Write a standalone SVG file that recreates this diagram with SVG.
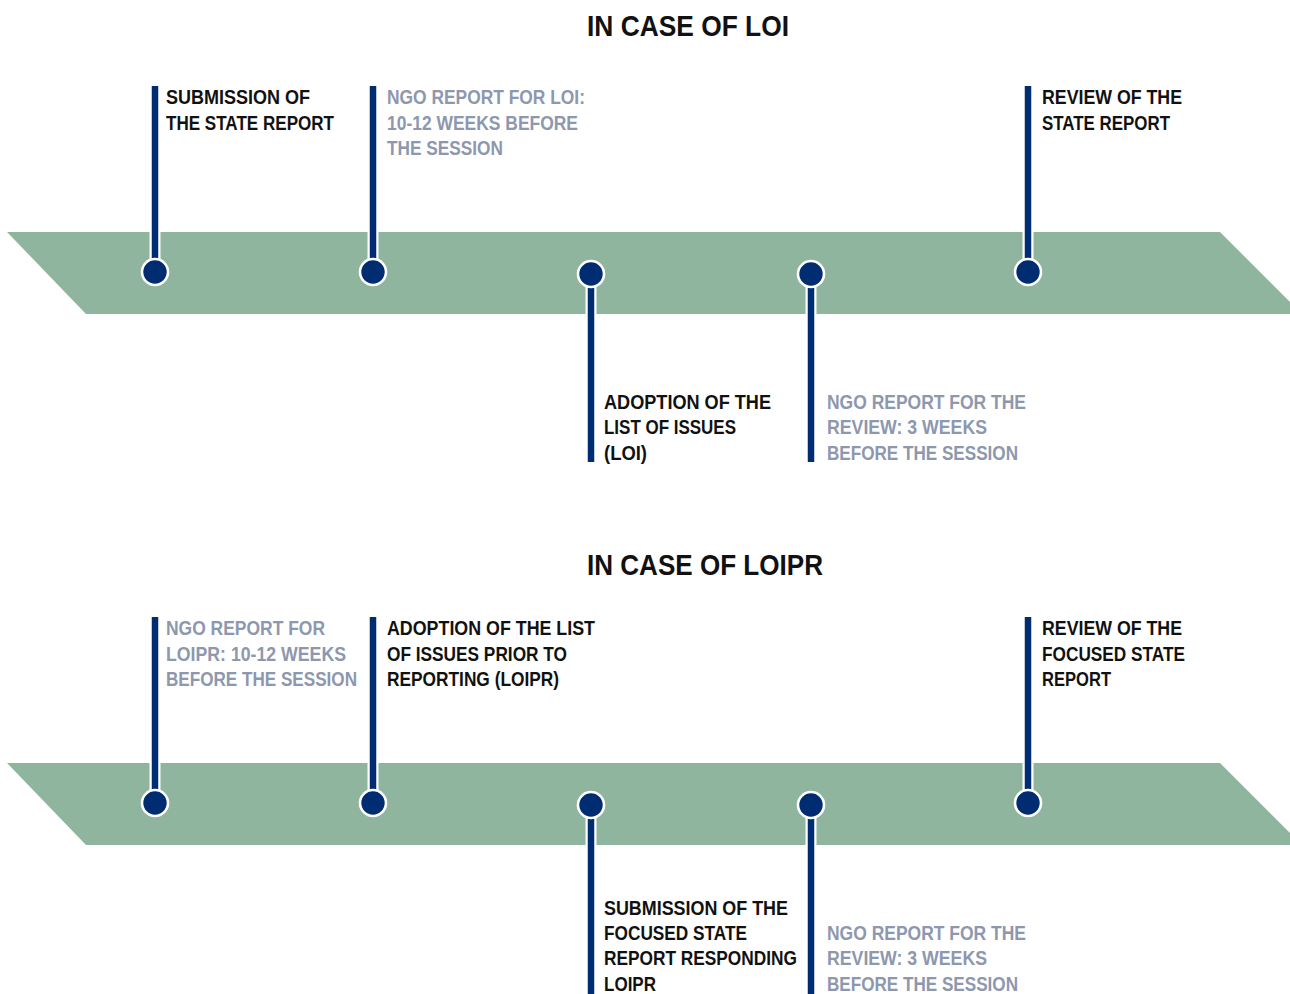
<svg xmlns="http://www.w3.org/2000/svg" width="1290" height="994" viewBox="0 0 1290 994">
<style>
.band{fill:#8fb59e}
.halo{stroke:#ffffff;stroke-width:11}
.stem{stroke:#002d72;stroke-width:6.5}
.dot{fill:#002d72;stroke:#ffffff;stroke-width:2.6}
.t{font-family:"Liberation Sans",Arial,sans-serif;font-weight:bold;font-size:20px}
.k{fill:#111111}
.g{fill:#8d97ae}
.title{font-family:"Liberation Sans",Arial,sans-serif;font-weight:bold;font-size:30px;fill:#111111}
</style>
<rect width="1290" height="994" fill="#ffffff"/>

<text id="title-loi" class="title" x="587" y="36" textLength="202" lengthAdjust="spacingAndGlyphs">IN CASE OF LOI</text>
<text id="title-loipr" class="title" x="587" y="575" textLength="236" lengthAdjust="spacingAndGlyphs">IN CASE OF LOIPR</text>
<polygon id="band-loi" class="band" points="7,232 1220,232 1302,314 86,314"/>
<polygon id="band-loipr" class="band" points="7,763 1220,763 1302,845 86,845"/>

<g id="connectors">
  <g id="stems-loi">
    <line class="halo" x1="155" y1="232" x2="155" y2="272"/><line class="stem" x1="155" y1="86" x2="155" y2="272"/>
    <line class="halo" x1="373" y1="232" x2="373" y2="272"/><line class="stem" x1="373" y1="86" x2="373" y2="272"/>
    <line class="halo" x1="591" y1="274" x2="591" y2="314"/><line class="stem" x1="591" y1="274" x2="591" y2="462"/>
    <line class="halo" x1="811" y1="274" x2="811" y2="314"/><line class="stem" x1="811" y1="274" x2="811" y2="462"/>
    <line class="halo" x1="1028" y1="232" x2="1028" y2="272"/><line class="stem" x1="1028" y1="86" x2="1028" y2="272"/>
  </g>
  <g id="stems-loipr">
    <line class="halo" x1="155" y1="763" x2="155" y2="803"/><line class="stem" x1="155" y1="617" x2="155" y2="803"/>
    <line class="halo" x1="373" y1="763" x2="373" y2="803"/><line class="stem" x1="373" y1="617" x2="373" y2="803"/>
    <line class="halo" x1="591" y1="805" x2="591" y2="845"/><line class="stem" x1="591" y1="805" x2="591" y2="994"/>
    <line class="halo" x1="811" y1="805" x2="811" y2="845"/><line class="stem" x1="811" y1="805" x2="811" y2="994"/>
    <line class="halo" x1="1028" y1="763" x2="1028" y2="803"/><line class="stem" x1="1028" y1="617" x2="1028" y2="803"/>
  </g>
</g>

<g id="loi-submission">
  <circle class="dot" cx="155" cy="272" r="13"/>
  <text class="t k" x="166" y="104" textLength="144" lengthAdjust="spacingAndGlyphs">SUBMISSION OF</text>
  <text class="t k" x="166" y="129.5" textLength="168" lengthAdjust="spacingAndGlyphs">THE STATE REPORT</text>
</g>
<g id="loi-ngo">
  <circle class="dot" cx="373" cy="272" r="13"/>
  <text class="t g" x="387" y="104" textLength="198" lengthAdjust="spacingAndGlyphs">NGO REPORT FOR LOI:</text>
  <text class="t g" x="387" y="129.5" textLength="191" lengthAdjust="spacingAndGlyphs">10-12 WEEKS BEFORE</text>
  <text class="t g" x="387" y="155" textLength="116" lengthAdjust="spacingAndGlyphs">THE SESSION</text>
</g>
<g id="loi-adoption">
  <circle class="dot" cx="591" cy="274" r="13"/>
  <text class="t k" x="604" y="408.5" textLength="167" lengthAdjust="spacingAndGlyphs">ADOPTION OF THE</text>
  <text class="t k" x="604" y="434" textLength="132" lengthAdjust="spacingAndGlyphs">LIST OF ISSUES</text>
  <text class="t k" x="604" y="459.5" textLength="43" lengthAdjust="spacingAndGlyphs">(LOI)</text>
</g>
<g id="loi-ngo-review">
  <circle class="dot" cx="811" cy="274" r="13"/>
  <text class="t g" x="827" y="408.5" textLength="199" lengthAdjust="spacingAndGlyphs">NGO REPORT FOR THE</text>
  <text class="t g" x="827" y="434" textLength="160" lengthAdjust="spacingAndGlyphs">REVIEW: 3 WEEKS</text>
  <text class="t g" x="827" y="459.5" textLength="191" lengthAdjust="spacingAndGlyphs">BEFORE THE SESSION</text>
</g>
<g id="loi-review">
  <circle class="dot" cx="1028" cy="272" r="13"/>
  <text class="t k" x="1042" y="104" textLength="140" lengthAdjust="spacingAndGlyphs">REVIEW OF THE</text>
  <text class="t k" x="1042" y="129.5" textLength="128" lengthAdjust="spacingAndGlyphs">STATE REPORT</text>
</g>

<g id="loipr-ngo">
  <circle class="dot" cx="155" cy="803" r="13"/>
  <text class="t g" x="166" y="635" textLength="159" lengthAdjust="spacingAndGlyphs">NGO REPORT FOR</text>
  <text class="t g" x="166" y="660.5" textLength="180" lengthAdjust="spacingAndGlyphs">LOIPR: 10-12 WEEKS</text>
  <text class="t g" x="166" y="686" textLength="191" lengthAdjust="spacingAndGlyphs">BEFORE THE SESSION</text>
</g>
<g id="loipr-adoption">
  <circle class="dot" cx="373" cy="803" r="13"/>
  <text class="t k" x="387" y="635" textLength="208" lengthAdjust="spacingAndGlyphs">ADOPTION OF THE LIST</text>
  <text class="t k" x="387" y="660.5" textLength="180" lengthAdjust="spacingAndGlyphs">OF ISSUES PRIOR TO</text>
  <text class="t k" x="387" y="686" textLength="172" lengthAdjust="spacingAndGlyphs">REPORTING (LOIPR)</text>
</g>
<g id="loipr-submission">
  <circle class="dot" cx="591" cy="805" r="13"/>
  <text class="t k" x="604" y="914.5" textLength="184" lengthAdjust="spacingAndGlyphs">SUBMISSION OF THE</text>
  <text class="t k" x="604" y="940" textLength="143" lengthAdjust="spacingAndGlyphs">FOCUSED STATE</text>
  <text class="t k" x="604" y="965" textLength="193" lengthAdjust="spacingAndGlyphs">REPORT RESPONDING</text>
  <text class="t k" x="604" y="990.5" textLength="52" lengthAdjust="spacingAndGlyphs">LOIPR</text>
</g>
<g id="loipr-ngo-review">
  <circle class="dot" cx="811" cy="805" r="13"/>
  <text class="t g" x="827" y="940" textLength="199" lengthAdjust="spacingAndGlyphs">NGO REPORT FOR THE</text>
  <text class="t g" x="827" y="965" textLength="160" lengthAdjust="spacingAndGlyphs">REVIEW: 3 WEEKS</text>
  <text class="t g" x="827" y="990.5" textLength="191" lengthAdjust="spacingAndGlyphs">BEFORE THE SESSION</text>
</g>
<g id="loipr-review">
  <circle class="dot" cx="1028" cy="803" r="13"/>
  <text class="t k" x="1042" y="635" textLength="140" lengthAdjust="spacingAndGlyphs">REVIEW OF THE</text>
  <text class="t k" x="1042" y="660.5" textLength="143" lengthAdjust="spacingAndGlyphs">FOCUSED STATE</text>
  <text class="t k" x="1042" y="686" textLength="69" lengthAdjust="spacingAndGlyphs">REPORT</text>
</g>
</svg>
